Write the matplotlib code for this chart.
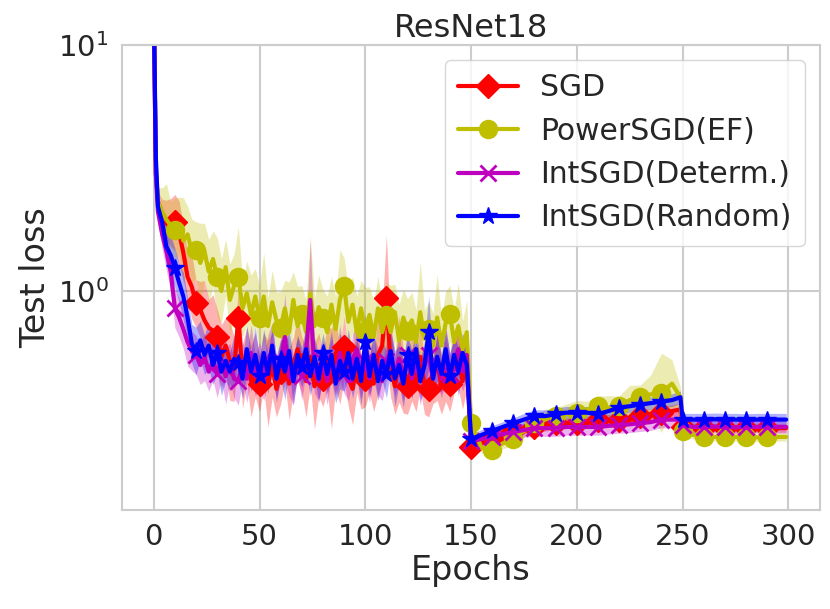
import numpy as np
import seaborn as sns
import matplotlib
matplotlib.use('Agg')
import matplotlib.pyplot as plt

sns.set_theme(style='whitegrid')
plt.rcParams['font.family'] = ['DejaVu Sans']

# epochs: dense before the lr drop, coarser after (curves are smooth there)
epochs = [0, 1] + list(range(2, 151, 2)) + list(range(155, 250, 5)) + [249] + list(range(250, 300, 5)) + [299]

sgd = [15.0, 3.0,
       2.3, 2.05, 1.95, 1.9, 1.9,
       1.72, 1.43, 1.14, 1.04, 0.89,
       0.84, 0.76, 0.71, 0.69, 0.65,
       0.54, 0.6, 0.52, 0.48, 0.78,
       0.45, 0.55, 0.43, 0.5, 0.42,
       0.52, 0.42, 0.5, 0.4, 0.47,
       0.55, 0.42, 0.5, 0.58, 0.5,
       0.43, 0.54, 0.41, 0.5, 0.44,
       0.53, 0.44, 0.56, 0.45, 0.59,
       0.44, 0.4, 0.52, 0.43, 0.44,
       0.52, 0.42, 0.55, 0.6, 0.94,
       0.5, 0.41, 0.53, 0.43, 0.41,
       0.5, 0.42, 0.54, 0.41, 0.40,
       0.47, 0.52, 0.41, 0.48, 0.42,
       0.5, 0.54, 0.43, 0.52, 0.232,
       0.24, 0.25, 0.26, 0.27, 0.275, 0.28, 0.285, 0.29, 0.29, 0.29,
       0.295, 0.30, 0.30, 0.30, 0.305, 0.31, 0.315, 0.32, 0.325, 0.33,
       0.28, 0.277, 0.277, 0.278, 0.277, 0.276, 0.277, 0.277, 0.276, 0.277, 0.277]

powersgd = [15.0, 3.2,
            2.3, 2.1, 1.95, 1.85, 1.77,
            1.85, 1.6, 1.7, 1.45, 1.47,
            1.3, 1.45, 1.2, 1.35, 1.14,
            1.0, 1.25, 0.92, 1.05, 1.14,
            0.85, 0.98, 0.8, 0.95, 0.78,
            0.95, 0.72, 0.9, 0.76, 0.71,
            0.85, 0.68, 0.92, 0.72, 0.81,
            0.68, 0.98, 0.72, 0.86, 0.78,
            0.68, 0.88, 0.7, 0.92, 1.05,
            0.75, 0.88, 0.68, 0.85, 0.69,
            0.8, 0.65, 0.85, 0.68, 0.8,
            0.68, 0.82, 0.63, 0.78, 0.69,
            0.76, 0.62, 0.82, 0.64, 0.7,
            0.6, 0.78, 0.6, 0.74, 0.81,
            0.62, 0.72, 0.58, 0.68, 0.29,
            0.23, 0.226, 0.24, 0.25, 0.27, 0.29, 0.30, 0.31, 0.315, 0.32,
            0.33, 0.34, 0.335, 0.34, 0.36, 0.37, 0.38, 0.385, 0.42, 0.37,
            0.27, 0.26, 0.255, 0.255, 0.256, 0.255, 0.255, 0.254, 0.255, 0.255, 0.255]

intsgd_det = [15.0, 3.0,
              2.1, 1.7, 1.45, 1.2, 0.85,
              0.78, 0.7, 0.62, 0.57, 0.55,
              0.5, 0.54, 0.47, 0.52, 0.46,
              0.53, 0.45, 0.51, 0.44, 0.43,
              0.52, 0.44, 0.56, 0.45, 0.5,
              0.43, 0.53, 0.57, 0.44, 0.52,
              0.65, 0.45, 0.43, 0.54, 0.45,
              0.56, 0.92, 0.48, 0.43, 0.52,
              0.43, 0.54, 0.45, 0.56, 0.46,
              0.43, 0.53, 0.58, 0.44, 0.52,
              0.44, 0.55, 0.47, 0.43, 0.52,
              0.57, 0.45, 0.53, 0.43, 0.55,
              0.44, 0.52, 0.43, 0.5, 0.55,
              0.44, 0.53, 0.44, 0.56, 0.46,
              0.52, 0.58, 0.47, 0.55, 0.245,
              0.25, 0.255, 0.262, 0.267, 0.272, 0.277, 0.277, 0.277, 0.28, 0.28,
              0.28, 0.28, 0.283, 0.285, 0.287, 0.29, 0.293, 0.30, 0.30, 0.30,
              0.285, 0.28, 0.28, 0.281, 0.28, 0.279, 0.28, 0.28, 0.281, 0.28, 0.28]

intsgd_rand = [15.0, 3.5,
               2.2, 1.9, 1.51, 1.4, 1.24,
               1.08, 0.95, 0.78, 0.61, 0.57,
               0.63, 0.55, 0.6, 0.5, 0.56,
               0.47, 0.52, 0.47, 0.53, 0.51,
               0.44, 0.58, 0.47, 0.55, 0.45,
               0.56, 0.46, 0.6, 0.44, 0.53,
               0.47, 0.57, 0.43, 0.55, 0.49,
               0.58, 0.45, 0.54, 0.44, 0.56,
               0.46, 0.55, 0.42, 0.52, 0.47,
               0.56, 0.44, 0.53, 0.43, 0.62,
               0.45, 0.55, 0.43, 0.52, 0.46,
               0.57, 0.44, 0.5, 0.42, 0.55,
               0.46, 0.58, 0.43, 0.5, 0.68,
               0.44, 0.54, 0.46, 0.58, 0.45,
               0.55, 0.47, 0.56, 0.5, 0.25,
               0.26, 0.27, 0.28, 0.29, 0.30, 0.31, 0.31, 0.315, 0.32, 0.32,
               0.32, 0.315, 0.325, 0.335, 0.34, 0.345, 0.35, 0.355, 0.36, 0.37,
               0.30, 0.30, 0.30, 0.301, 0.30, 0.30, 0.299, 0.30, 0.30, 0.30, 0.30]

# relative half-width of the shaded band (spread over runs)
sgd_band = [0.0, 0.2,
            0.1, 0.15, 0.2, 0.25, 0.3,
            0.35, 0.3, 0.25, 0.35, 0.25,
            0.3, 0.45, 0.3, 0.4, 0.3,
            0.35, 0.3, 0.45, 0.35, 0.3,
            0.35, 0.3, 0.4, 0.35, 0.3,
            0.3, 0.5, 0.35, 0.3, 0.35,
            0.3, 0.4, 0.3, 0.35, 0.3,
            0.4, 0.3, 0.5, 0.35, 0.3,
            0.35, 0.6, 0.4, 0.3, 0.35,
            0.3, 0.4, 0.35, 0.3, 0.3,
            0.35, 0.3, 0.45, 0.4, 0.8,
            0.35, 0.3, 0.5, 0.35, 0.3,
            0.4, 0.3, 0.35, 0.3, 0.3,
            0.35, 0.45, 0.3, 0.35, 0.3,
            0.3, 0.35, 0.3, 0.3, 0.05,
            0.05, 0.05, 0.05, 0.05, 0.05, 0.05, 0.06, 0.05, 0.05, 0.05,
            0.05, 0.06, 0.05, 0.05, 0.05, 0.06, 0.05, 0.06, 0.06, 0.06,
            0.04, 0.04, 0.04, 0.04, 0.04, 0.04, 0.04, 0.04, 0.04, 0.04, 0.04]

powersgd_band = [0.0, 0.2,
                 0.15, 0.25, 0.4, 0.25, 0.35,
                 0.3, 0.5, 0.3, 0.35, 0.3,
                 0.45, 0.3, 0.35, 0.3, 0.45,
                 0.35, 0.3, 0.4, 0.35, 0.6,
                 0.3, 0.35, 0.45, 0.3, 0.35,
                 0.5, 0.3, 0.35, 0.3, 0.4,
                 0.3, 0.6, 0.3, 0.45, 0.3,
                 0.35, 0.7, 0.3, 0.35, 0.3,
                 0.4, 0.3, 0.35, 0.6, 0.3,
                 0.35, 0.3, 0.4, 0.3, 0.5,
                 0.3, 0.4, 0.35, 0.3, 0.35,
                 0.55, 0.3, 0.4, 0.3, 0.35,
                 0.3, 0.35, 0.6, 0.3, 0.3,
                 0.35, 0.5, 0.3, 0.35, 0.3,
                 0.35, 0.5, 0.3, 0.35, 0.05,
                 0.05, 0.05, 0.05, 0.06, 0.06, 0.08, 0.1, 0.08, 0.1, 0.12,
                 0.08, 0.1, 0.12, 0.1, 0.15, 0.12, 0.2, 0.45, 0.25, 0.1,
                 0.05, 0.04, 0.04, 0.04, 0.04, 0.04, 0.04, 0.04, 0.04, 0.04, 0.04]

intsgd_det_band = [0.0, 0.2,
                   0.1, 0.15, 0.2, 0.2, 0.2,
                   0.2, 0.2, 0.25, 0.2, 0.2,
                   0.2, 0.25, 0.2, 0.2, 0.25,
                   0.2, 0.3, 0.2, 0.2, 0.25,
                   0.2, 0.25, 0.3, 0.2, 0.25,
                   0.2, 0.25, 0.3, 0.2, 0.2,
                   0.5, 0.2, 0.25, 0.2, 0.25,
                   0.2, 0.75, 0.25, 0.2, 0.2,
                   0.25, 0.2, 0.2, 0.3, 0.2,
                   0.2, 0.25, 0.3, 0.2, 0.2,
                   0.25, 0.2, 0.25, 0.2, 0.2,
                   0.3, 0.2, 0.25, 0.2, 0.25,
                   0.2, 0.2, 0.25, 0.2, 0.3,
                   0.2, 0.25, 0.2, 0.3, 0.2,
                   0.25, 0.3, 0.2, 0.25, 0.05,
                   0.06, 0.06, 0.07, 0.07, 0.07, 0.08, 0.08, 0.08, 0.08, 0.08,
                   0.08, 0.08, 0.08, 0.08, 0.08, 0.08, 0.08, 0.08, 0.08, 0.08,
                   0.06, 0.06, 0.06, 0.06, 0.06, 0.06, 0.06, 0.06, 0.06, 0.06, 0.06]

intsgd_rand_band = [0.0, 0.2,
                    0.1, 0.15, 0.2, 0.2, 0.2,
                    0.2, 0.25, 0.2, 0.2, 0.25,
                    0.2, 0.2, 0.25, 0.2, 0.2,
                    0.25, 0.2, 0.2, 0.25, 0.2,
                    0.2, 0.25, 0.2, 0.3, 0.2,
                    0.25, 0.2, 0.2, 0.25, 0.2,
                    0.3, 0.2, 0.25, 0.2, 0.2,
                    0.25, 0.2, 0.2, 0.25, 0.2,
                    0.2, 0.25, 0.2, 0.3, 0.2,
                    0.25, 0.2, 0.2, 0.25, 0.3,
                    0.2, 0.25, 0.2, 0.2, 0.25,
                    0.2, 0.3, 0.2, 0.25, 0.2,
                    0.25, 0.2, 0.2, 0.25, 0.4,
                    0.2, 0.25, 0.2, 0.2, 0.25,
                    0.2, 0.25, 0.2, 0.25, 0.05,
                    0.05, 0.05, 0.05, 0.05, 0.06, 0.06, 0.06, 0.06, 0.06, 0.06,
                    0.06, 0.06, 0.06, 0.06, 0.06, 0.06, 0.06, 0.06, 0.06, 0.06,
                    0.06, 0.06, 0.06, 0.06, 0.06, 0.06, 0.06, 0.06, 0.06, 0.06, 0.06]

labels = ['SGD', 'PowerSGD(EF)', 'IntSGD(Determ.)', 'IntSGD(Random)']
series = [sgd, powersgd, intsgd_det, intsgd_rand]
bands = [sgd_band, powersgd_band, intsgd_det_band, intsgd_rand_band]
colors = ['#ff0000', '#bfbf00', '#bf00bf', '#0000ff']
markers = ['D', 'o', 'x', '*']
msizes = [12, 13, 11, 13]

x = np.array(epochs)
marks = [i for i, e in enumerate(epochs) if e % 10 == 0]

fig = plt.figure(figsize=(8.3, 6.09), dpi=100)
ax = fig.add_axes([0.147, 0.163, 0.841, 0.763])

for y, b, c, m, ms, lab in zip(series, bands, colors, markers, msizes, labels):
    y = np.array(y)
    b = np.array(b)
    ax.fill_between(x, y / (1 + b), y * (1 + b), color=c, alpha=0.3, lw=0)
    ax.plot(x, y, color=c, lw=3, marker=m, markersize=ms, markevery=marks,
            mew=2 if m == 'x' else 1, label=lab)

ax.set_yscale('log')
ax.set_ylim(0.129, 10)
ax.set_xlim(-15, 315)
ax.set_xticks([0, 50, 100, 150, 200, 250, 300])
ax.tick_params(labelsize=21, colors='#262626')
ax.set_xlabel('Epochs', fontsize=24, labelpad=2, color='#262626')
ax.set_ylabel('Test loss', fontsize=24, color='#262626')
ax.set_title('ResNet18', fontsize=23, color='#262626')
ax.grid(True, which='major', color='#cccccc', lw=1.5)
for s in ax.spines.values():
    s.set_color('#cccccc')
    s.set_linewidth(1.5)

ax.legend(loc='upper right', fontsize=21.5, labelspacing=0.48, handlelength=2.0,
          handletextpad=0.75, borderpad=0.45, frameon=True, facecolor='white',
          edgecolor='#cccccc', framealpha=0.8)

fig.savefig('out.png', dpi=100)
